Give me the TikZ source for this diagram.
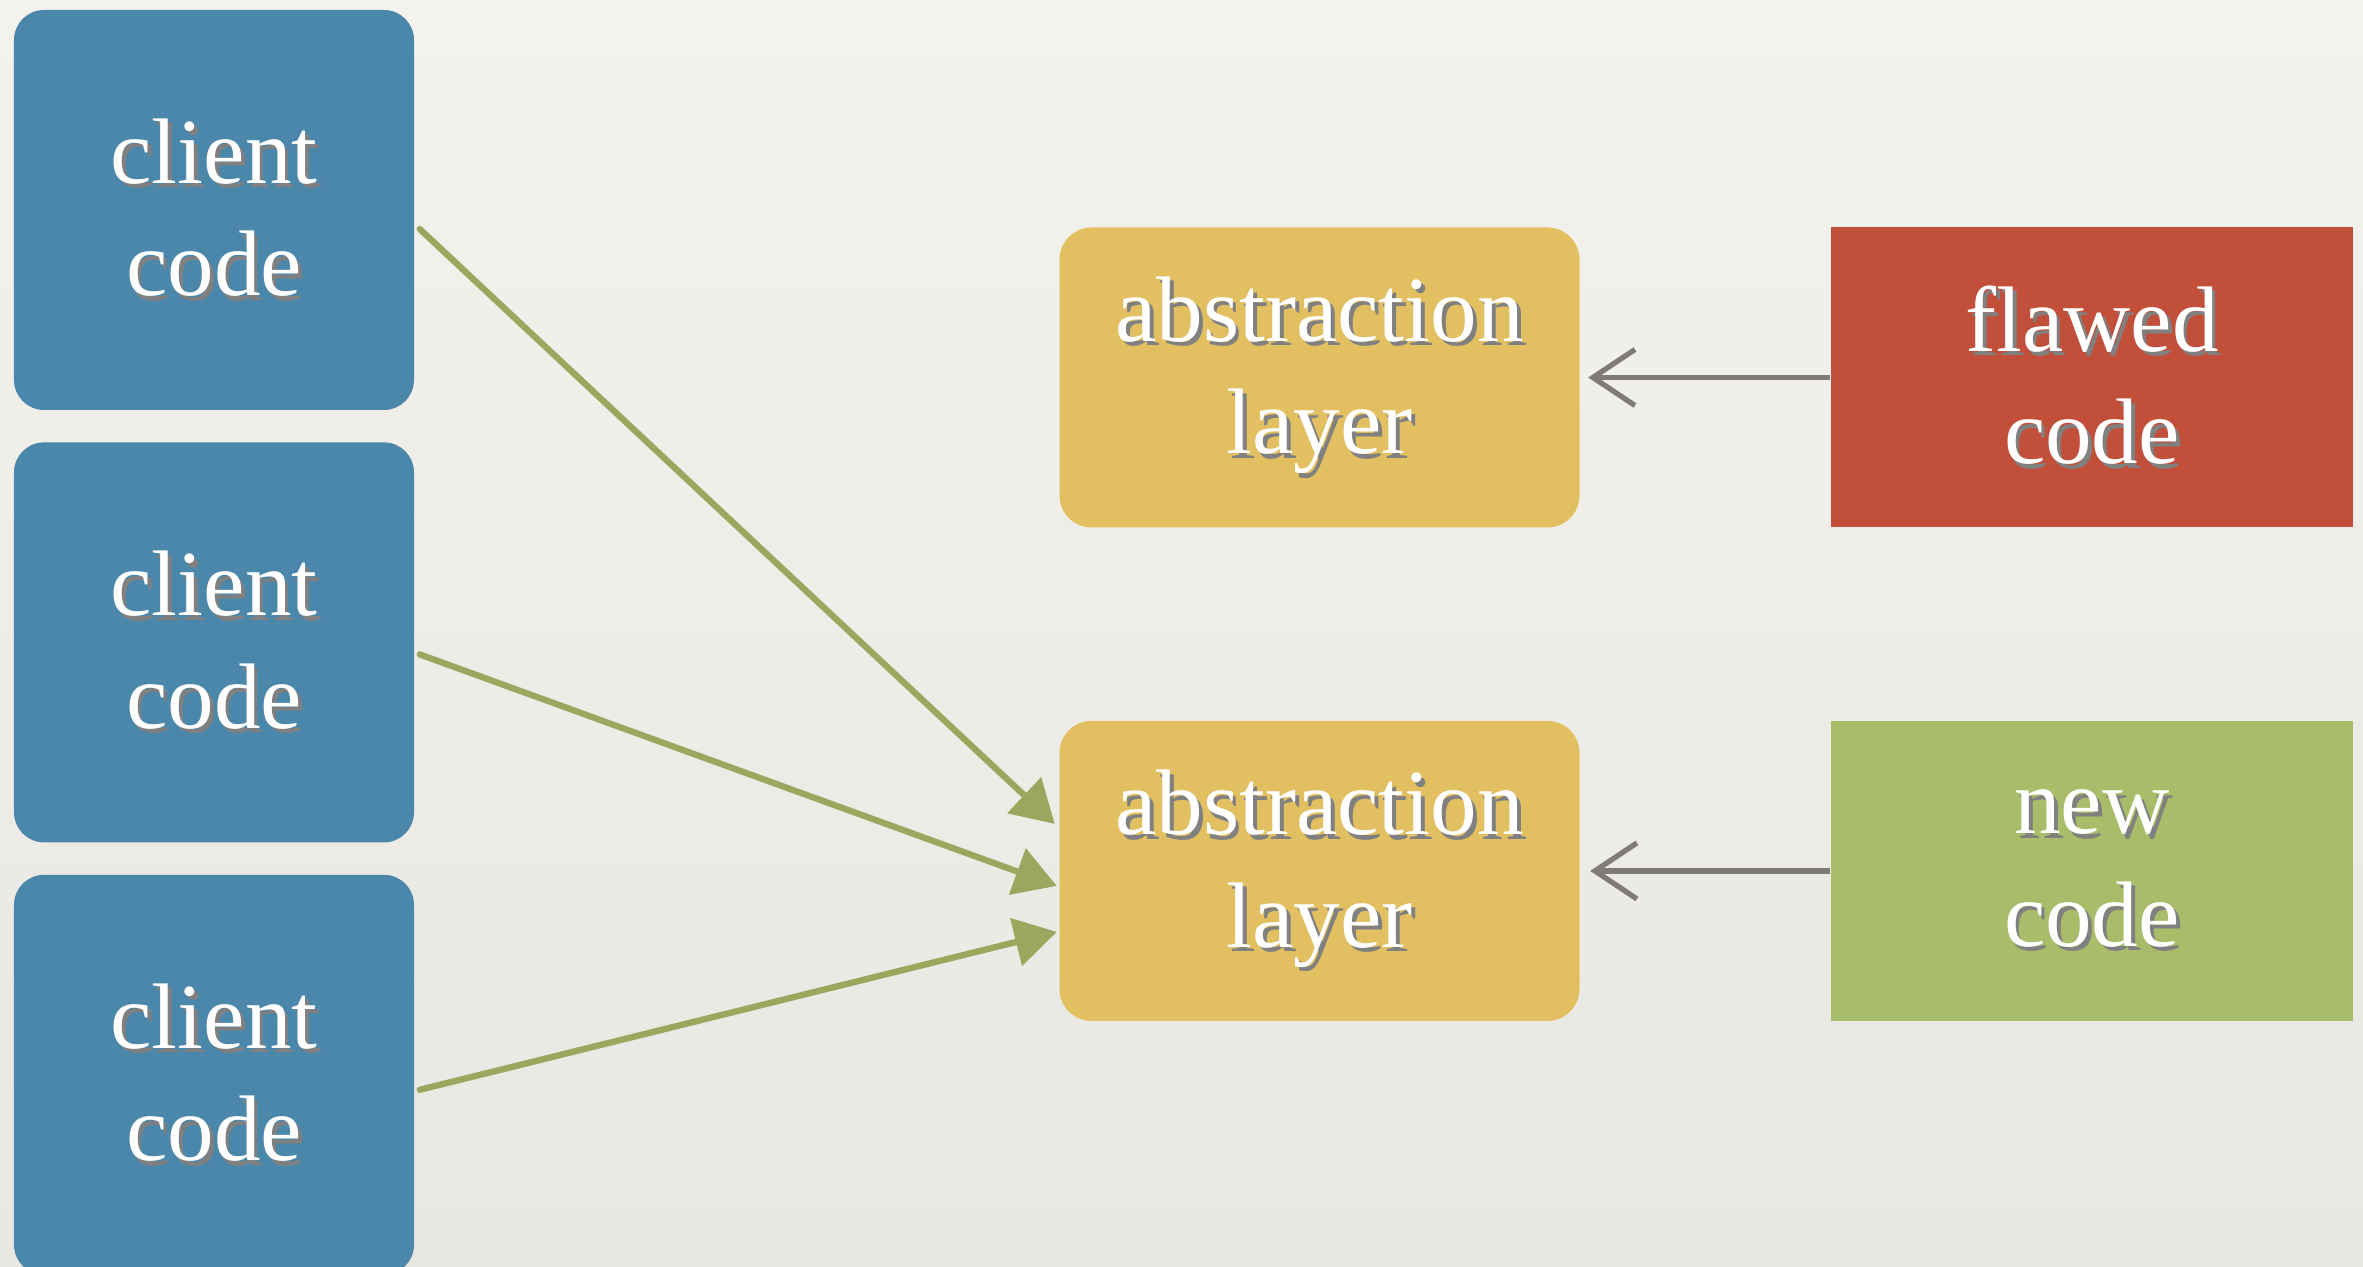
\documentclass[tikz,border=0pt]{standalone}
\usepackage{fontspec}
\setmainfont{Liberation Serif}
\usepackage{xcolor}
\usepackage{tikz}
\usetikzlibrary{positioning, arrows.meta}

\definecolor{paperTop}{HTML}{F4F2ED}
\definecolor{paperBot}{HTML}{E9E7E2}
\definecolor{clientBlue}{HTML}{4B87AA}
\definecolor{layerGold}{HTML}{E2C062}
\definecolor{flawRed}{HTML}{C24F3A}
\definecolor{newGreen}{HTML}{A9BC69}
\definecolor{arrowGreen}{HTML}{9AA85F}
\definecolor{arrowGrey}{HTML}{7E7B79}

% white letters with a dark drop shadow
\newcommand{\shtext}[1]{\rlap{\kern1.1pt\raisebox{-1.3pt}{\textcolor{black!50}{#1}}}#1}

\tikzstyle{client} = [rectangle, rounded corners=3mm, minimum width=4cm, minimum height=4cm, text centered, align=center, fill=clientBlue, text=white, font=\fontsize{26.5}{32}\selectfont, inner sep=0pt]
\tikzstyle{layer} = [rectangle, rounded corners=3.2mm, minimum width=5.2cm, minimum height=3cm, text centered, align=center, fill=layerGold, text=white, font=\fontsize{26.5}{32}\selectfont, inner sep=0pt]
\tikzstyle{impl} = [rectangle, minimum width=5.22cm, minimum height=3cm, text centered, align=center, text=white, font=\fontsize{26.5}{32}\selectfont, inner sep=0pt]
\tikzstyle{usearrow} = [line width=1.8pt, draw=arrowGreen, -{Triangle[length=4.2mm, width=4.8mm]}, line cap=round]
\tikzstyle{implarrow} = [line width=1.5pt, draw=arrowGrey, -{Straight Barb[length=4.2mm, width=5.6mm, line width=1.5pt]}]

\begin{document}
\begin{tikzpicture}[node distance=0.31cm]

    % Background
    \useasboundingbox (0,0) rectangle (23.63,12.67);
    \fill[top color=paperTop, bottom color=paperBot] (0,0) rectangle (23.63,12.67);

    % Nodes
    \node (client1) [client] at (2.14,10.57) {\shtext{client}\\\shtext{code}};
    \node (client2) [client, below=of client1] {\shtext{client}\\\shtext{code}};
    \node (client3) [client, below=of client2] {\shtext{client}\\\shtext{code}};
    \node (oldlayer) [layer] at (13.195,8.895) {\shtext{abstraction}\\\shtext{layer}};
    \node (newlayer) [layer, below=1.92cm of oldlayer] {\shtext{abstraction}\\\shtext{layer}};
    \node (flawed) [impl, fill=flawRed, right=2.5cm of oldlayer] {\shtext{flawed}\\\shtext{code}};
    \node (newcode) [impl, fill=newGreen, right=2.5cm of newlayer] {\shtext{new}\\\shtext{code}};

    % Arrows
    \draw [usearrow] ([xshift=0.5mm, yshift=-1.9mm]client1.east) -- ([xshift=-0.4mm, yshift=4.7mm]newlayer.west);
    \draw [usearrow] ([xshift=0.5mm, yshift=-1.2mm]client2.east) -- ([xshift=-0.2mm, yshift=-1.5mm]newlayer.west);
    \draw [usearrow] ([xshift=0.5mm, yshift=-1.5mm]client3.east) -- ([xshift=-0.2mm, yshift=-6.1mm]newlayer.west);
    \draw [implarrow] (flawed.west) -- ([xshift=0.8mm]oldlayer.east);
    \draw [implarrow] (newcode.west) -- ([xshift=1.0mm]newlayer.east);

\end{tikzpicture}
\end{document}
